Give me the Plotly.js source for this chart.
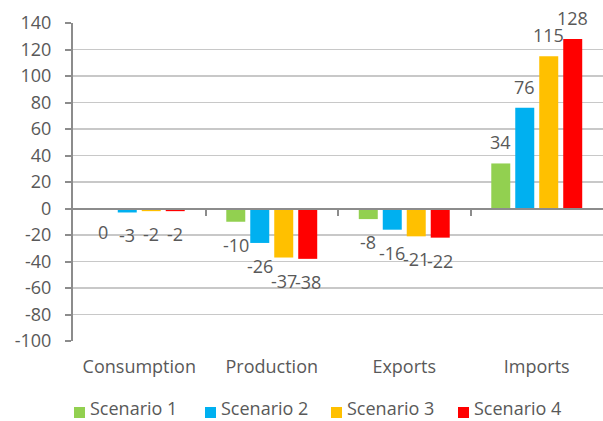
<!DOCTYPE html>
<html>
<head>
<meta charset="utf-8">
<script src="https://cdn.plot.ly/plotly-3.0.1.min.js"></script>
<style>html,body{margin:0;padding:0;background:#fff;}#chart{width:603px;height:421px;}</style>
</head>
<body>
<div id="chart"></div>
<script>
const categories = ["Consumption", "Production", "Exports", "Imports"];
const seriesNames = ["Scenario 1", "Scenario 2", "Scenario 3", "Scenario 4"];
const scenario1 = [0, -10, -8, 34];
const scenario2 = [-3, -26, -16, 76];
const scenario3 = [-2, -37, -21, 115];
const scenario4 = [-2, -38, -22, 128];
const yTicks = [-100, -80, -60, -40, -20, 0, 20, 40, 60, 80, 100, 120, 140];

const seriesValues = [scenario1, scenario2, scenario3, scenario4];
const colors = ["#92D050", "#00B0F0", "#FFC000", "#FF0000"];
const textColor = "#595959";
const fontFam = "'Open Sans', sans-serif";
const FS = 18;

const ML = 73, MR = 0, MT = 23, MB = 80, W = 603, H = 421;
const PW = W - ML - MR, PH = H - MT - MB;
const px2x = p => (p - ML) / PW;
const py2y = p => (H - MB - p) / PH;

const traces = seriesValues.map((vals, i) => ({
  type: "bar",
  name: seriesNames[i],
  x: categories,
  y: vals,
  marker: {color: colors[i]},
  hoverinfo: "none",
  showlegend: false
}));
// helper trace for the zero-crossing horizontal axis
traces.push({type: "scatter", x: [0], y: [0], xaxis: "x2", yaxis: "y", mode: "none", showlegend: false, hoverinfo: "none"});

const annotations = [];
seriesValues.forEach((vals, i) => {
  vals.forEach((v, j) => {
    annotations.push({
      x: categories[j], y: v, xref: "x", yref: "y",
      text: String(v), showarrow: false,
      xshift: (i - 1.5) * 24,
      yshift: v > 0 ? 21 : -23,
      font: {family: fontFam, size: FS, color: textColor}
    });
  });
});

// manual legend
const legendSquareX = [74, 205, 331, 458];
const shapes = [];
seriesNames.forEach((name, i) => {
  const x0 = legendSquareX[i];
  shapes.push({
    type: "rect", xref: "paper", yref: "paper",
    x0: px2x(x0), x1: px2x(x0 + 11), y0: py2y(418), y1: py2y(407),
    fillcolor: colors[i], line: {width: 0}
  });
  annotations.push({
    xref: "paper", yref: "paper", x: px2x(x0 + 15), y: py2y(421),
    xanchor: "left", yanchor: "bottom", showarrow: false, borderpad: 0,
    text: name, font: {family: fontFam, size: FS, color: textColor}
  });
});

const layout = {
  width: W, height: H,
  margin: {l: ML, r: MR, t: MT, b: MB, pad: 0},
  paper_bgcolor: "#ffffff", plot_bgcolor: "#ffffff",
  font: {family: fontFam, size: FS, color: textColor},
  barmode: "group",
  bargap: 0.276,
  bargroupgap: 0.208,
  showlegend: false,
  xaxis: {
    type: "category", categoryorder: "array", categoryarray: categories,
    showline: false, showgrid: false, zeroline: false, ticks: "",
    ticklabelstandoff: 13,
    tickfont: {family: fontFam, size: FS, color: textColor},
    fixedrange: true
  },
  xaxis2: {
    overlaying: "x", anchor: "free", position: 100 / 240,
    range: [-0.5, 3.5], showgrid: false, zeroline: false,
    showline: true, linecolor: "#8c8c8c", linewidth: 2,
    tickmode: "array", tickvals: [0.5, 1.5, 2.5], showticklabels: false,
    ticks: "outside", ticklen: 6, tickwidth: 2, tickcolor: "#8c8c8c",
    fixedrange: true
  },
  yaxis: {
    range: [-100, 140], tickmode: "array", tickvals: yTicks,
    ticktext: yTicks.map(String),
    showgrid: true, gridcolor: "#c8c8c8", gridwidth: 1.5,
    zeroline: false,
    showline: true, linecolor: "#8c8c8c", linewidth: 2,
    ticks: "outside", ticklen: 6, tickwidth: 2, tickcolor: "#8c8c8c",
    ticklabelstandoff: 10,
    tickfont: {family: fontFam, size: FS, color: textColor},
    fixedrange: true
  },
  shapes: shapes,
  annotations: annotations
};

Plotly.newPlot("chart", traces, layout, {displayModeBar: false, staticPlot: true});
</script>
</body>
</html>
